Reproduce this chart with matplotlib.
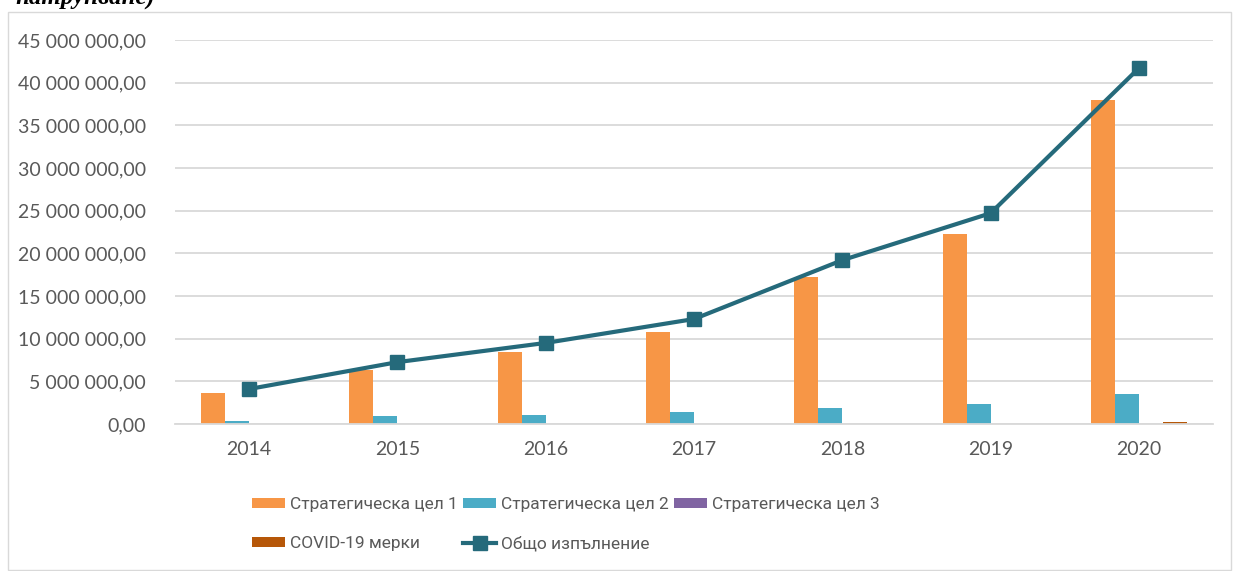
import matplotlib.pyplot as plt
import numpy as np
from matplotlib.patches import Rectangle

years = ["2014", "2015", "2016", "2017", "2018", "2019", "2020"]
goal1 = [3.63e6, 6.3e6, 8.4e6, 10.8e6, 17.2e6, 22.3e6, 38.0e6]
goal2 = [0.35e6, 0.9e6, 1.05e6, 1.4e6, 1.9e6, 2.3e6, 3.5e6]
goal3 = [0, 0, 0, 0, 0, 0, 0]
covid = [0, 0, 0, 0, 0, 0, 0.23e6]
total = [4.1e6, 7.25e6, 9.5e6, 12.3e6, 19.2e6, 24.7e6, 41.7e6]

bar_names = ["Стратегическа цел 1", "Стратегическа цел 2", "Стратегическа цел 3", "COVID-19 мерки"]
line_name = "Общо изпълнение"
colors = ["#F79646", "#4BACC6", "#8064A2", "#B65708"]
line_color = "#256A7B"
txt = "#595959"

plt.rcParams["font.family"] = ["Lato", "DejaVu Sans"]

W, H = 1233, 571
fig = plt.figure(figsize=(W / 100, H / 100), dpi=100)
ax = fig.add_axes([175 / W, 1 - 424 / H, (1213 - 175) / W, (424 - 40) / H])

x = np.arange(len(years))
bw = 0.162
series = [goal1, goal2, goal3, covid]
handles = []
for i, (vals, c, name) in enumerate(zip(series, colors, bar_names)):
    b = ax.bar(x + (i - 1.5) * bw, vals, bw, color=c, label=name, zorder=2)
    handles.append(b)
ln, = ax.plot(x, total, color=line_color, lw=3, marker="s", markersize=10,
              label=line_name, zorder=3)

ax.set_xlim(-0.5, len(years) - 0.5)
ax.set_ylim(0, 45e6)
yt = np.arange(0, 45e6 + 1, 5e6)
ax.set_yticks(yt)
ax.set_yticklabels([f"{v:,.2f}".replace(",", " ").replace(".", ",") for v in yt])
ax.set_xticks(x)
ax.set_xticklabels(years)
ax.tick_params(axis="both", length=0, colors=txt, labelsize=14)
ax.tick_params(axis="y", pad=21)
ax.tick_params(axis="x", pad=12)
ax.grid(axis="y", color="#D9D9D9", lw=1.3, zorder=0)
for s in ["top", "right", "left"]:
    ax.spines[s].set_visible(False)
ax.spines["bottom"].set_color("#D9D9D9")
ax.spines["bottom"].set_linewidth(1.3)

# legend ordered so rows read left to right
order = [handles[0], handles[3], handles[1], ln, handles[2]]
labels = [h.get_label() for h in order]
fig.legend(order, labels, ncol=3, loc="upper left",
           bbox_to_anchor=(252 / W, 1 - 497 / H), frameon=False,
           prop={"family": ["Roboto", "DejaVu Sans"], "size": 12.5},
           labelcolor=txt, handlelength=1.9, handleheight=0.55,
           handletextpad=0.3, columnspacing=0.3, labelspacing=1.4,
           borderpad=0, borderaxespad=0)

# outer frame of the chart
fig.patches.append(Rectangle((8 / W, 1 - 570 / H), (1231 - 8) / W, (570 - 12) / H,
                             transform=fig.transFigure, fill=False,
                             edgecolor="#D9D9D9", lw=1))

# heading cut off at the top of the picture
fig.text(155 / W, 1 - 5 / H, "натрупване)", ha="right", va="baseline",
         family="Liberation Serif", fontweight="bold", style="italic", fontsize=18)

fig.savefig("out.png", dpi=100)
